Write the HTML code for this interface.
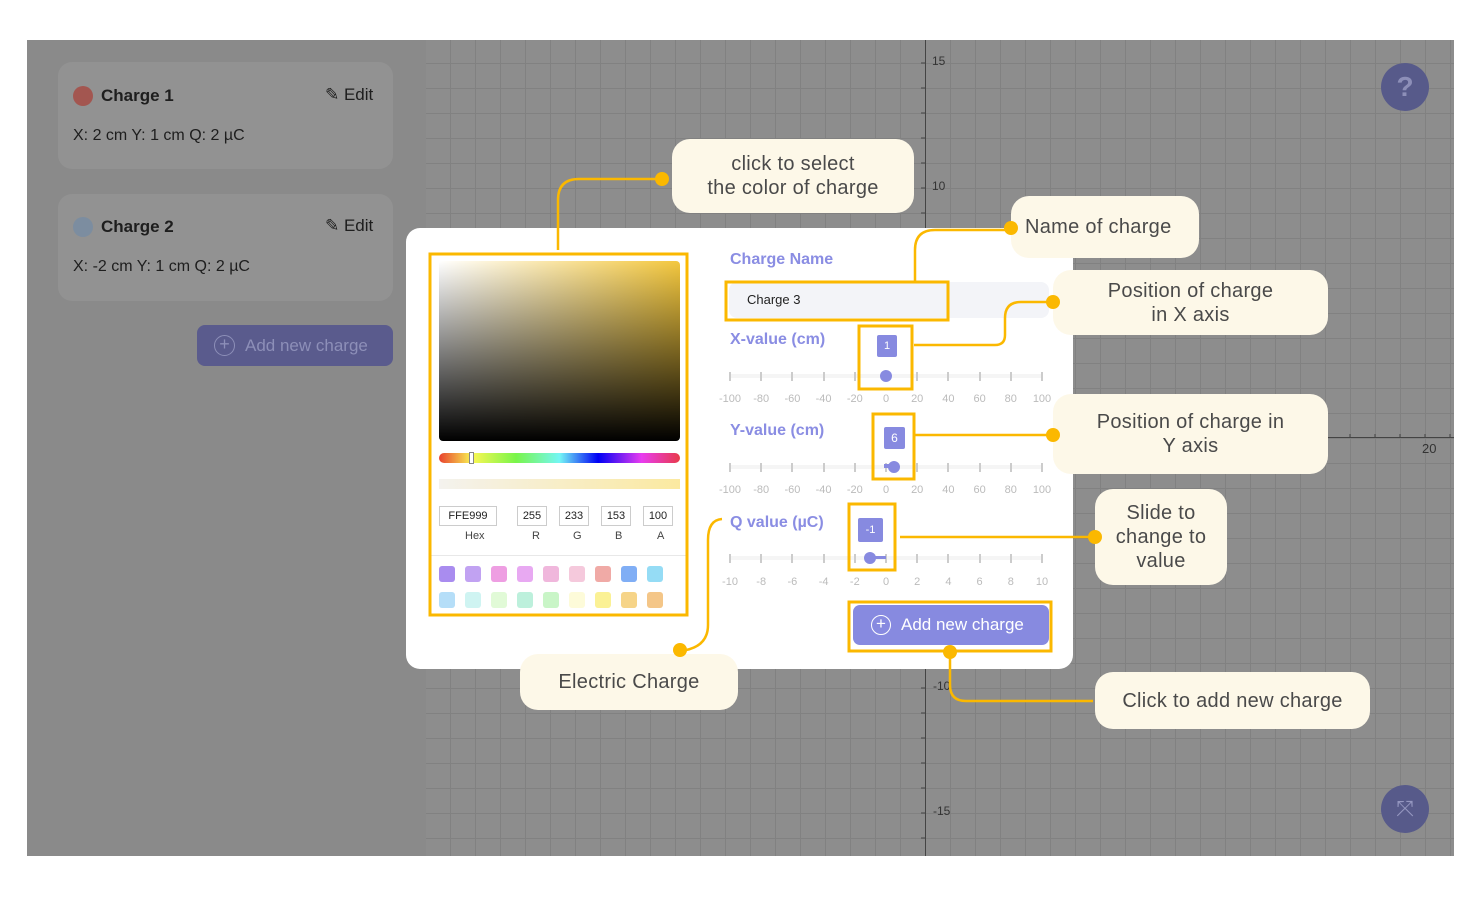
<!DOCTYPE html>
<html><head><meta charset="utf-8"><style>
*{box-sizing:border-box;margin:0;padding:0}
body{width:1468px;height:899px;background:#fff;position:relative;overflow:hidden;font-family:"Liberation Sans",sans-serif}
.abs{position:absolute}
.graph{left:426px;top:40px;width:1028px;height:816px;background-color:#8d8d8d;
background-image:linear-gradient(#818181 1px,transparent 1px),linear-gradient(90deg,#818181 1px,transparent 1px);
background-size:25px 25px;background-position:-1px 23px}
.left{left:27px;top:40px;width:399px;height:816px;background:#8a8a8a}
.card{background:#929292;border-radius:14px;width:335px;left:58px}
.call{background:#fdf8e8;border-radius:18px;color:#4a4a4a;font-size:20px;text-align:center;display:flex;align-items:center;justify-content:center;line-height:24px;letter-spacing:.3px}
.lbl{color:#8a8de3;font-weight:bold;font-size:16px}
.tk{position:absolute;width:2px;height:9px;background:#ccc}
.num{position:absolute;font-size:11px;color:#bbb;width:30px;text-align:center}
.sw{position:absolute;width:16px;height:16px;border-radius:3px}
.inp{position:absolute;border:1px solid #ccc;height:20px;font-size:11px;line-height:18px;text-align:center;color:#222;top:506px}
.cap{position:absolute;font-size:11px;color:#444;top:530px}
</style></head><body>
<div class="abs left"></div>
<div class="abs graph"></div>
<!-- axes -->
<div class="abs" style="left:925px;top:40px;width:1px;height:816px;background:#444"></div>
<div class="abs" style="left:1200px;top:437px;width:254px;height:1px;background:#444"></div>
<div class="abs" style="left:932px;top:54px;font-size:12px;color:#333">15</div>
<div class="abs" style="left:932px;top:179px;font-size:12px;color:#333">10</div>
<div class="abs" style="left:933px;top:679px;font-size:12px;color:#333">-10</div>
<div class="abs" style="left:933px;top:804px;font-size:12px;color:#333">-15</div>
<div class="abs" style="left:1422px;top:441px;font-size:13px;color:#333">20</div>
<svg class="abs" style="left:0;top:0" width="1468" height="899">
<g stroke="#444" stroke-width="1">
<path d="M921 63h4M921 88h4M921 113h4M921 138h4M921 163h4M921 188h4M921 213h4M921 663h4M921 688h4M921 713h4M921 738h4M921 763h4M921 788h4M921 813h4M921 838h4"/>
<path d="M1250 434v4M1275 434v4M1300 434v4M1325 434v4M1350 434v4M1375 434v4M1400 434v4M1425 434v4M1450 434v4"/>
</g>
</svg>
<!-- cards -->
<div class="abs card" style="top:62px;height:107px"></div>
<div class="abs card" style="top:194px;height:107px"></div>
<div class="abs" style="left:73px;top:86px;width:20px;height:20px;border-radius:50%;background:#a35650"></div>
<div class="abs" style="left:101px;top:86px;font-size:17px;font-weight:bold;color:#1e1e1e">Charge 1</div>
<div class="abs" style="left:325px;top:85px;font-size:17px;color:#1e1e1e">✎ Edit</div>
<div class="abs" style="left:73px;top:127px;font-size:16px;color:#1e1e1e">X: 2 cm Y: 1 cm Q: 2 µC</div>
<div class="abs" style="left:73px;top:217px;width:20px;height:20px;border-radius:50%;background:#7c8da0"></div>
<div class="abs" style="left:101px;top:217px;font-size:17px;font-weight:bold;color:#1e1e1e">Charge 2</div>
<div class="abs" style="left:325px;top:216px;font-size:17px;color:#1e1e1e">✎ Edit</div>
<div class="abs" style="left:73px;top:258px;font-size:16px;color:#1e1e1e">X: -2 cm Y: 1 cm Q: 2 µC</div>
<div class="abs" style="left:197px;top:325px;width:196px;height:41px;border-radius:8px;background:#5a5b8d;color:#8d8fb8;font-size:17px;line-height:41px;padding-left:48px">Add new charge</div>
<div class="abs" style="left:214px;top:335px;width:21px;height:21px;border-radius:50%;border:1.5px solid #8d8fb8;color:#8d8fb8;font-size:18px;line-height:17px;text-align:center">+</div>
<!-- round buttons -->
<div class="abs" style="left:1381px;top:63px;width:48px;height:48px;border-radius:50%;background:#575a8a;color:#8d8fb8;font-size:28px;font-weight:bold;text-align:center;line-height:48px">?</div>
<div class="abs" style="left:1381px;top:785px;width:48px;height:48px;border-radius:50%;background:#575a8a;color:#9597c0;font-size:22px;text-align:center;line-height:48px">⤧</div>
<!-- modal -->
<div class="abs" style="left:406px;top:228px;width:667px;height:441px;background:#fff;border-radius:14px"></div>
<!-- color picker -->
<div class="abs" style="left:439px;top:261px;width:241px;height:180px;border-radius:4px;background:linear-gradient(to bottom,transparent,#000),linear-gradient(to right,#fff,#f3c73e)"></div>
<div class="abs" style="left:439px;top:453px;width:241px;height:10px;border-radius:5px;background:linear-gradient(to right,#e8412e,#f9f753 14%,#78f54a 32%,#74f6f5 50%,#0000f5 66%,#e83cf0 84%,#e83a4a)"></div>
<div class="abs" style="left:469px;top:452px;width:5px;height:12px;background:#fff;border:1px solid #888"></div>
<div class="abs" style="left:439px;top:479px;width:241px;height:10px;background:linear-gradient(to right,#f4f2ee,#fbe9a0)"></div>
<div class="inp" style="left:439px;width:58px">FFE999</div>
<div class="inp" style="left:517px;width:30px">255</div>
<div class="inp" style="left:559px;width:30px">233</div>
<div class="inp" style="left:601px;width:30px">153</div>
<div class="inp" style="left:643px;width:30px">100</div>
<div class="cap" style="left:465px">Hex</div><div class="cap" style="left:532px">R</div><div class="cap" style="left:573px">G</div><div class="cap" style="left:615px">B</div><div class="cap" style="left:657px">A</div>
<div class="abs" style="left:431px;top:555px;width:255px;height:1px;background:#e8e8e8"></div>
<div class="sw" style="left:439px;top:566px;background:#a98cef"></div><div class="sw" style="left:465px;top:566px;background:#c1a2f2"></div><div class="sw" style="left:491px;top:566px;background:#ee9ee2"></div><div class="sw" style="left:517px;top:566px;background:#e8a9f2"></div><div class="sw" style="left:543px;top:566px;background:#f0b7dc"></div><div class="sw" style="left:569px;top:566px;background:#f5c9dc"></div><div class="sw" style="left:595px;top:566px;background:#f0aaa6"></div><div class="sw" style="left:621px;top:566px;background:#80aef5"></div><div class="sw" style="left:647px;top:566px;background:#95dcf5"></div>
<div class="sw" style="left:439px;top:592px;background:#b5def8"></div><div class="sw" style="left:465px;top:592px;background:#cff4f2"></div><div class="sw" style="left:491px;top:592px;background:#e1fad7"></div><div class="sw" style="left:517px;top:592px;background:#bdf0dc"></div><div class="sw" style="left:543px;top:592px;background:#c9f5c7"></div><div class="sw" style="left:569px;top:592px;background:#fdfbd9"></div><div class="sw" style="left:595px;top:592px;background:#fbf195"></div><div class="sw" style="left:621px;top:592px;background:#f6d488"></div><div class="sw" style="left:647px;top:592px;background:#f4c688"></div>
<!-- form -->
<div class="abs lbl" style="left:730px;top:251px">Charge Name</div>
<div class="abs" style="left:729px;top:282px;width:320px;height:36px;border-radius:8px;background:#f3f4f8;font-size:13px;color:#222;line-height:36px;padding-left:18px">Charge 3</div>
<div class="abs lbl" style="left:730px;top:331px">X-value (cm)</div>
<div class="abs lbl" style="left:730px;top:422px">Y-value (cm)</div>
<div class="abs lbl" style="left:730px;top:514px">Q value (µC)</div>
<div id="sl"></div>
<div class="abs" style="left:853px;top:605px;width:196px;height:40px;border-radius:7px;background:#878ae0;color:#fff;font-size:17px;line-height:40px;padding-left:48px">Add new charge</div>
<div class="abs" style="left:871px;top:615px;width:20px;height:20px;border-radius:50%;border:1.5px solid #fff;color:#fff;font-size:17px;line-height:16px;text-align:center">+</div>
<script>
var h='';var rows=[[376,400,['-100','-80','-60','-40','-20','0','20','40','60','80','100']],[467,491,['-100','-80','-60','-40','-20','0','20','40','60','80','100']],[558,583,['-10','-8','-6','-4','-2','0','2','4','6','8','10']]];
rows.forEach(function(r){h+='<div class="abs" style="left:729px;top:'+(r[0]-2)+'px;width:314px;height:4px;background:#f5f5f5"></div>';for(var i=0;i<11;i++){var x=729+i*31.2;h+='<div class="tk" style="left:'+x+'px;top:'+(r[0]-4)+'px"></div><div class="num" style="left:'+(x-14)+'px;top:'+(r[1]-7)+'px">'+r[2][i]+'</div>';}});
document.getElementById('sl').innerHTML=h;
</script>
<!-- thumbs -->
<div class="abs" style="left:880px;top:370px;width:12px;height:12px;border-radius:50%;background:#878ae0"></div>
<div class="abs" style="left:877px;top:335px;width:20px;height:22px;background:#878ae0;color:#fff;font-size:11px;text-align:center;line-height:22px;border-radius:2px">1</div>
<div class="abs" style="left:884px;top:464px;width:8px;height:4px;background:#878ae0"></div>
<div class="abs" style="left:888px;top:461px;width:12px;height:12px;border-radius:50%;background:#878ae0"></div>
<div class="abs" style="left:884px;top:427px;width:21px;height:22px;background:#878ae0;color:#fff;font-size:12px;text-align:center;line-height:22px;border-radius:2px">6</div>
<div class="abs" style="left:868px;top:556px;width:18px;height:3px;background:#878ae0"></div>
<div class="abs" style="left:864px;top:552px;width:12px;height:12px;border-radius:50%;background:#878ae0"></div>
<div class="abs" style="left:858px;top:518px;width:25px;height:24px;background:#878ae0;color:#fff;font-size:11px;text-align:center;line-height:24px;border-radius:2px">-1</div>
<!-- callouts -->
<div class="abs call" style="left:672px;top:139px;width:242px;height:74px">click to select<br>the color of charge</div>
<div class="abs call" style="left:1011px;top:196px;width:188px;height:62px;justify-content:flex-start;padding-left:14px">Name of charge</div>
<div class="abs call" style="left:1053px;top:270px;width:275px;height:65px">Position of charge<br>in X axis</div>
<div class="abs call" style="left:1053px;top:394px;width:275px;height:80px">Position of charge in<br>Y axis</div>
<div class="abs call" style="left:1095px;top:489px;width:132px;height:96px">Slide to<br>change to<br>value</div>
<div class="abs call" style="left:1095px;top:672px;width:275px;height:57px">Click to add new charge</div>
<div class="abs call" style="left:520px;top:654px;width:218px;height:56px">Electric Charge</div>
<svg class="abs" style="left:0;top:0" width="1468" height="899">
<g fill="none" stroke="#fbb800" stroke-width="3">
<rect x="430" y="254" width="257" height="361"/>
<rect x="726" y="282" width="222" height="38"/>
<rect x="859" y="326" width="53" height="63"/>
<rect x="873" y="414" width="41" height="65"/>
<rect x="849" y="504" width="46" height="66"/>
<rect x="849" y="602" width="202" height="49"/>
</g>
<g fill="none" stroke="#fbb800" stroke-width="2.5">
<path d="M558 250V200Q558 179 579 179H662"/>
<path d="M915 281V250Q915 230 935 230H1011"/>
<path d="M914 345H995Q1005 345 1005 335V318Q1005 302 1021 302H1053"/>
<path d="M914 435H1053"/>
<path d="M900 537H1095"/>
<path d="M950 652V685Q950 701 966 701H1093"/>
<path d="M680 651Q708 648 708 625V540Q708 520 722 519"/>
</g>
<g fill="#fbb800">
<circle cx="662" cy="179" r="7"/><circle cx="1011" cy="228" r="7"/><circle cx="1053" cy="302" r="7"/><circle cx="1053" cy="435" r="7"/><circle cx="1095" cy="537" r="7"/><circle cx="950" cy="652" r="7"/><circle cx="680" cy="650" r="7"/>
</g>
</svg>
</body></html>
